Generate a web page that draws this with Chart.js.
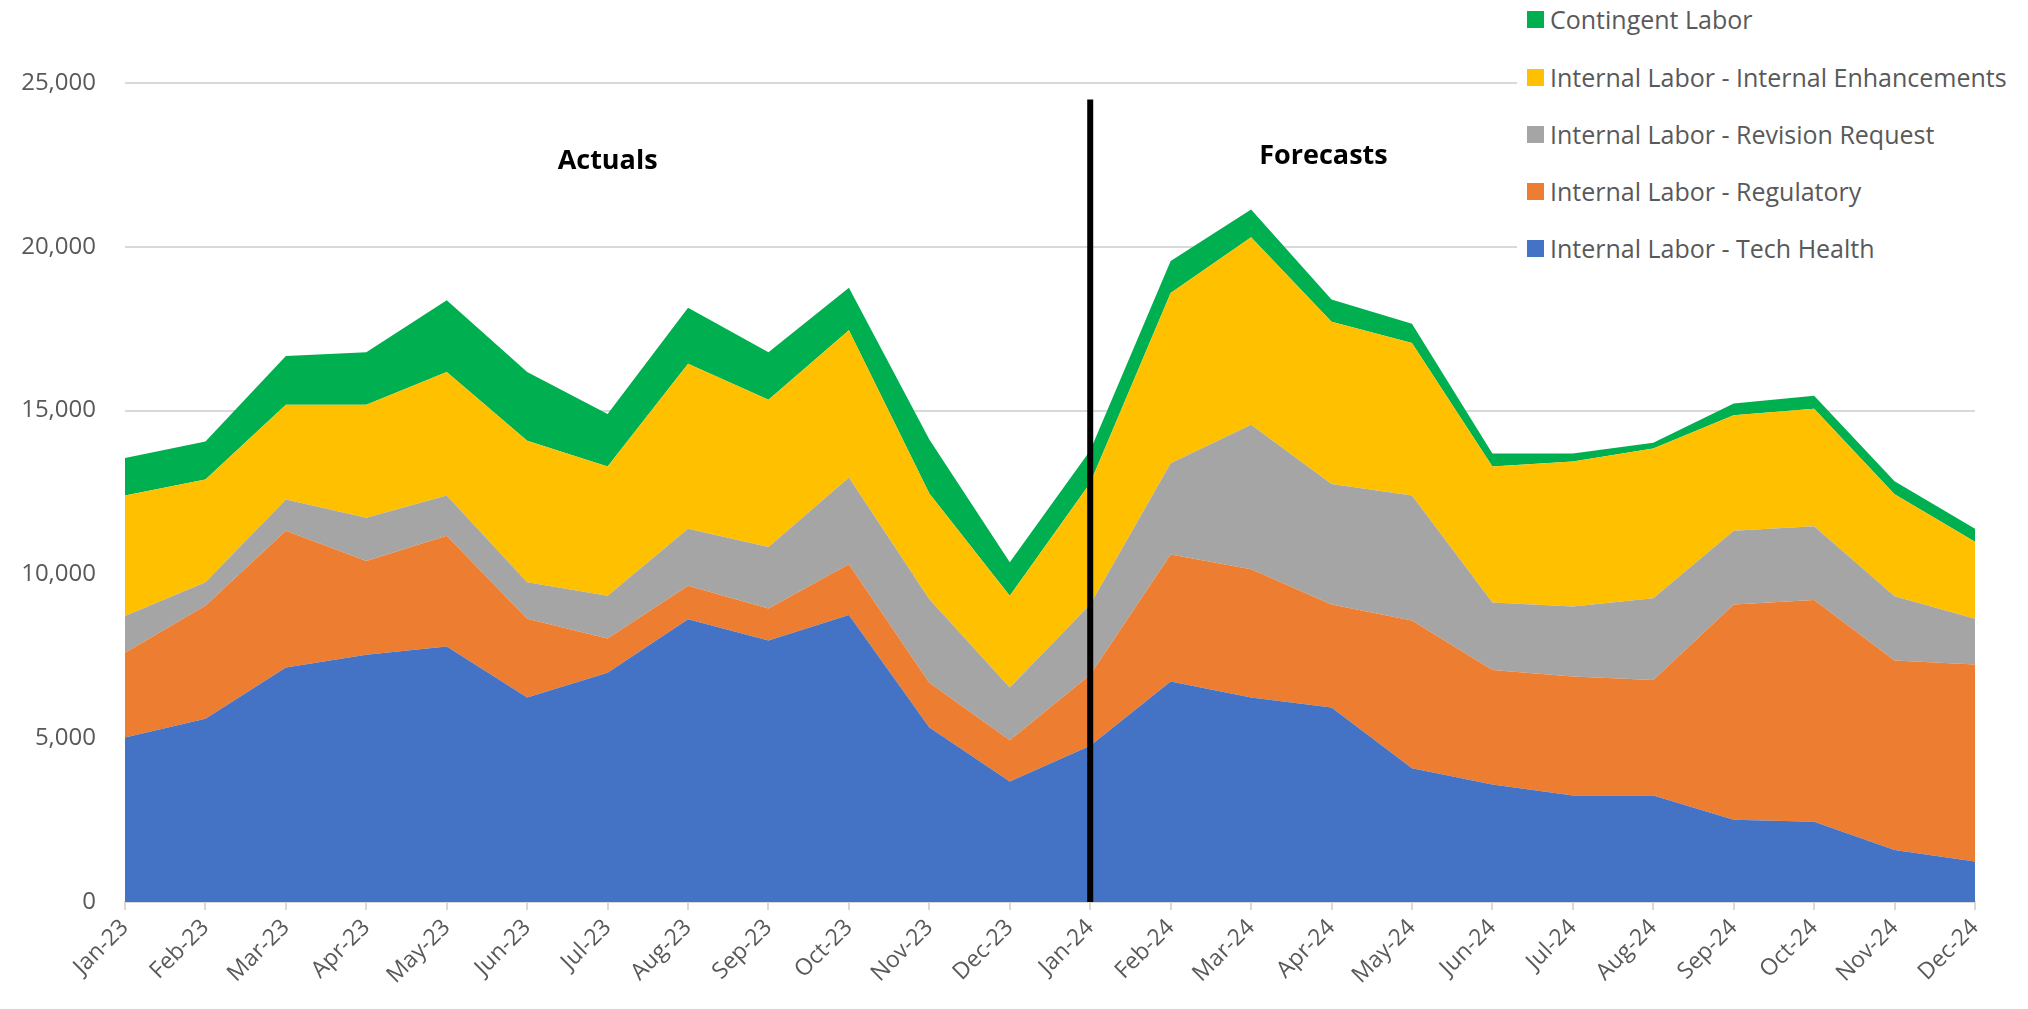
<!DOCTYPE html>
<html>
<head>
<meta charset="utf-8">
<script src="https://cdn.jsdelivr.net/npm/chart.js@4.4.1/dist/chart.umd.min.js"></script>
<style>
  html, body { margin: 0; padding: 0; background: #fff; }
  #wrap { position: relative; width: 2028px; height: 1009px; }
  #c { position: absolute; left: 0; top: 0; }
  #legend { position: absolute; left: 1517px; top: 0; width: 511px; height: 280px; background: #fff;
            font-family: "Open Sans", sans-serif; font-size: 25px; color: #595959; }
  .row { position: absolute; left: 10px; height: 34px; display: flex; align-items: center; white-space: nowrap; }
  .sw { width: 17px; height: 17px; margin-right: 6px; flex: none; }
</style>
</head>
<body>
<div id="wrap">
  <canvas id="c" width="2028" height="1009"></canvas>
  <div id="legend"></div>
</div>
<script>
const months = ["Jan-23","Feb-23","Mar-23","Apr-23","May-23","Jun-23","Jul-23","Aug-23","Sep-23","Oct-23","Nov-23","Dec-23",
                "Jan-24","Feb-24","Mar-24","Apr-24","May-24","Jun-24","Jul-24","Aug-24","Sep-24","Oct-24","Nov-24","Dec-24"];

const techHealth   = [5020,5590,7160,7550,7800,6240,7000,8630,7980,8760,5330,3680,4770,6730,6240,5940,4080,3590,3250,3250,2510,2450,1590,1240];
const regulatory   = [2590,3450,4170,2860,3380,2410,1040,1020,980,1550,1360,1260,2170,3880,3920,3140,4510,3490,3630,3530,6570,6770,5780,6010];
const revision     = [1120,720,960,1320,1230,1110,1310,1740,1880,2650,2550,1610,2140,2780,4410,3680,3820,2060,2140,2490,2250,2250,1960,1400];
const enhancements = [3680,3140,2890,3450,3770,4320,3940,5040,4490,4490,3230,2800,3710,5200,5720,4950,4650,4150,4430,4570,3530,3590,3120,2350];
const contingent   = [1140,1160,1490,1600,2190,2100,1610,1710,1450,1300,1650,1020,990,980,850,680,590,400,240,180,360,390,390,390];

const seriesNames  = ["Internal Labor - Tech Health","Internal Labor - Regulatory","Internal Labor - Revision Request","Internal Labor - Internal Enhancements","Contingent Labor"];
const seriesData   = [techHealth, regulatory, revision, enhancements, contingent];
const seriesColors = ["#4472C4","#ED7D31","#A5A5A5","#FFC000","#00B050"];

const yTicks = [0,5000,10000,15000,20000,25000];
const dividerIndex = 12;      // Jan-24
const dividerTop = 24500;
const sectionLabels = [{text:"Actuals", x:6, y:22600}, {text:"Forecasts", x:14.9, y:22750}];

const datasets = seriesNames.map((name, i) => ({
  label: name,
  data: seriesData[i],
  backgroundColor: seriesColors[i],
  borderColor: seriesColors[i],
  borderWidth: 0,
  pointRadius: 0,
  pointHoverRadius: 0,
  tension: 0,
  fill: i === 0 ? 'origin' : '-1'
}));

const annot = {
  id: 'annot',
  afterDatasetsDraw(chart) {
    const {ctx, scales: {x, y}} = chart;
    ctx.save();
    const px = x.getPixelForValue(dividerIndex);
    ctx.strokeStyle = '#000';
    ctx.lineWidth = 6;
    ctx.beginPath();
    ctx.moveTo(px, y.getPixelForValue(0));
    ctx.lineTo(px, y.getPixelForValue(dividerTop));
    ctx.stroke();
    ctx.font = 'bold 27px "Open Sans"';
    ctx.fillStyle = '#000';
    ctx.textAlign = 'center';
    ctx.textBaseline = 'middle';
    sectionLabels.forEach(l => ctx.fillText(l.text, x.getPixelForValue(l.x), y.getPixelForValue(l.y)));
    ctx.restore();
  }
};

new Chart(document.getElementById('c'), {
  type: 'line',
  data: { labels: months, datasets },
  options: {
    responsive: false,
    animation: false,
    layout: { padding: { left: 0, right: 53, top: 83, bottom: 0 } },
    plugins: { legend: { display: false }, tooltip: { enabled: false } },
    scales: {
      x: {
        offset: false,
        grid: { display: true, drawOnChartArea: false, color: '#d9d9d9', lineWidth: 2, tickLength: 8 },
        border: { display: true, color: '#d9d9d9', width: 2 },
        ticks: { color: '#595959', font: { family: 'Open Sans', size: 23 }, minRotation: 45, maxRotation: 45, autoSkip: false, padding: 4 },
        afterFit: s => { s.height = 107; }
      },
      y: {
        stacked: true,
        min: 0, max: 25000,
        afterBuildTicks: s => { s.ticks = yTicks.map(v => ({ value: v })); },
        grid: { color: '#d9d9d9', lineWidth: 2, drawTicks: false },
        border: { display: false },
        ticks: { color: '#595959', font: { family: 'Open Sans', size: 24 }, padding: 29,
                 callback: v => v.toLocaleString('en-US') },
        afterFit: s => { s.width = 125; }
      }
    }
  },
  plugins: [annot]
});

// HTML legend (top item = last series)
const legend = document.getElementById('legend');
const rowCenters = [19, 77, 134, 191, 248];
seriesNames.slice().reverse().forEach((name, k) => {
  const i = seriesNames.length - 1 - k;
  const row = document.createElement('div');
  row.className = 'row';
  row.style.top = (rowCenters[k] - 17) + 'px';
  const sw = document.createElement('span');
  sw.className = 'sw';
  sw.style.background = seriesColors[i];
  const tx = document.createElement('span');
  tx.textContent = name;
  row.appendChild(sw); row.appendChild(tx);
  legend.appendChild(row);
});
</script>
</body>
</html>
